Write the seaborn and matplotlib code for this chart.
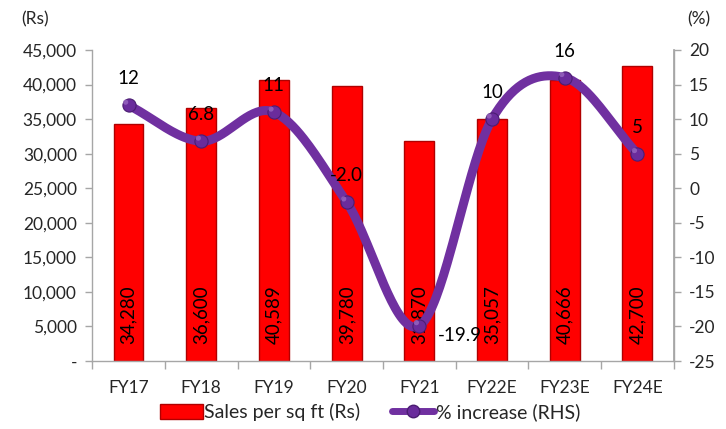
import numpy as np
import pandas as pd
import matplotlib
matplotlib.use("Agg")
import matplotlib.pyplot as plt
import seaborn as sns
from matplotlib.patches import Patch
from matplotlib.lines import Line2D

years = ["FY17", "FY18", "FY19", "FY20", "FY21", "FY22E", "FY23E", "FY24E"]
sales = [34280, 36600, 40589, 39780, 31870, 35057, 40666, 42700]
growth = [12, 6.8, 11, -2.0, -19.9, 10, 16, 5]
growth_labels = ["12", "6.8", "11", "-2.0", "-19.9", "10", "16", "5"]
left_ticks = [0, 5000, 10000, 15000, 20000, 25000, 30000, 35000, 40000, 45000]
right_ticks = [-25, -20, -15, -10, -5, 0, 5, 10, 15, 20]

sns.set_theme(style="white")
plt.rcParams["font.family"] = ["Lato", "DejaVu Sans"]

RED = "#FF0000"
PURPLE = "#7030A0"
GREY = "#A6A6A6"

df = pd.DataFrame({"year": years, "sales": sales, "growth": growth})

fig = plt.figure(figsize=(7.26, 4.29), dpi=100)
ax = fig.add_axes([0.127, 0.1585, 0.801, 0.725])

sns.barplot(data=df, x="year", y="sales", color=RED, width=0.41,
            saturation=1, edgecolor="#B00000", linewidth=1.0, ax=ax)
ax.set_xlim(-0.5, 7.5)
ax.set_ylim(0, 45000)
ax.set_yticks(left_ticks)
ax.set_yticklabels(["-"] + [f"{v:,}" for v in left_ticks[1:]], fontsize=12.5)
ax.set_xlabel("")
ax.set_ylabel("")
ax.tick_params(axis="x", labelsize=12.5, length=0, pad=14)
ax.tick_params(axis="y", left=True, length=5, color=GREY, width=1, pad=6)

# minor ticks between categories along the bottom axis
ax.set_xticks(np.arange(-0.5, 8.0, 1.0), minor=True)
ax.tick_params(axis="x", which="minor", bottom=True, length=6, color=GREY, width=1)

ax.spines["top"].set_visible(False)
for s in ["left", "right", "bottom"]:
    ax.spines[s].set_color(GREY)
    ax.spines[s].set_linewidth(1)

# rotated value labels inside the bars
for i, v in enumerate(sales):
    ax.text(i, 6650, f"{v:,}", rotation=90, ha="center", va="center",
            fontsize=13.5, color="black")

# secondary axis with the percentage line
ax2 = ax.twinx()
ax2.set_ylim(-25, 20)
ax2.set_yticks(right_ticks)
ax2.set_yticklabels([str(v) for v in right_ticks], fontsize=12.5)
ax2.tick_params(axis="y", right=True, length=5, color=GREY, width=1, pad=6)
for s in ["top", "left", "bottom"]:
    ax2.spines[s].set_visible(False)
ax2.spines["right"].set_color(GREY)
ax2.grid(False)

# smooth curve through the points (Catmull-Rom, like a spreadsheet "smoothed line")
xs = np.arange(len(growth), dtype=float)
ys = np.array(growth, dtype=float)
px = np.concatenate([[2 * xs[0] - xs[1]], xs, [2 * xs[-1] - xs[-2]]])
py = np.concatenate([[2 * ys[0] - ys[1]], ys, [2 * ys[-1] - ys[-2]]])
cx, cy = [], []
t = np.linspace(0, 1, 40)
for k in range(1, len(px) - 2):
    p0, p1, p2, p3 = px[k - 1], px[k], px[k + 1], px[k + 2]
    q0, q1, q2, q3 = py[k - 1], py[k], py[k + 1], py[k + 2]
    bx = 0.5 * ((2 * p1) + (-p0 + p2) * t + (2 * p0 - 5 * p1 + 4 * p2 - p3) * t**2
                + (-p0 + 3 * p1 - 3 * p2 + p3) * t**3)
    by = 0.5 * ((2 * q1) + (-q0 + q2) * t + (2 * q0 - 5 * q1 + 4 * q2 - q3) * t**2
                + (-q0 + 3 * q1 - 3 * q2 + q3) * t**3)
    cx.extend(bx)
    cy.extend(by)
curve = pd.DataFrame({"x": cx, "y": cy})
sns.lineplot(data=curve, x="x", y="y", sort=False, color=PURPLE, linewidth=6.5,
             solid_capstyle="round", ax=ax2)
sns.scatterplot(x=xs, y=ys, s=90, color="#6A2C9C", edgecolor="#4B1D72",
                linewidth=0.8, zorder=5, ax=ax2)
# highlight on the spheres
sns.scatterplot(x=xs - 0.04, y=ys + 0.45, s=14, color="#A070C8", edgecolor="none",
                alpha=0.7, zorder=6, ax=ax2)
ax2.set_xlabel("")
ax2.set_ylabel("")

label_offsets = [(0, 19), (0, 19), (0, 19), (0, 19), (29, -7), (0, 19), (0, 19), (0, 19)]
for i, (v, txt) in enumerate(zip(growth, growth_labels)):
    dx, dy = label_offsets[i]
    ax2.annotate(txt, (i, v), xytext=(dx, dy), textcoords="offset points",
                 ha="center", va="center", fontsize=13.5, color="black", zorder=7)

fig.text(0.048, 0.955, "(Rs)", ha="center", va="center", fontsize=12.5)
fig.text(0.963, 0.955, "(%)", ha="center", va="center", fontsize=12.5)

# legend
handles = [
    Patch(facecolor=RED, edgecolor="#B00000", label="Sales per sq ft (Rs)"),
    Line2D([0], [0], color=PURPLE, linewidth=5, marker="o", markersize=9,
           markerfacecolor="#6A2C9C", markeredgecolor="#4B1D72",
           label="% increase (RHS)"),
]
fig.legend(handles=handles, loc="center", bbox_to_anchor=(0.51, 0.04), ncol=2,
           frameon=False, fontsize=14, handlelength=2.2, handleheight=0.8,
           handletextpad=0.1, columnspacing=1.6)

fig.savefig("out.png", dpi=100)
